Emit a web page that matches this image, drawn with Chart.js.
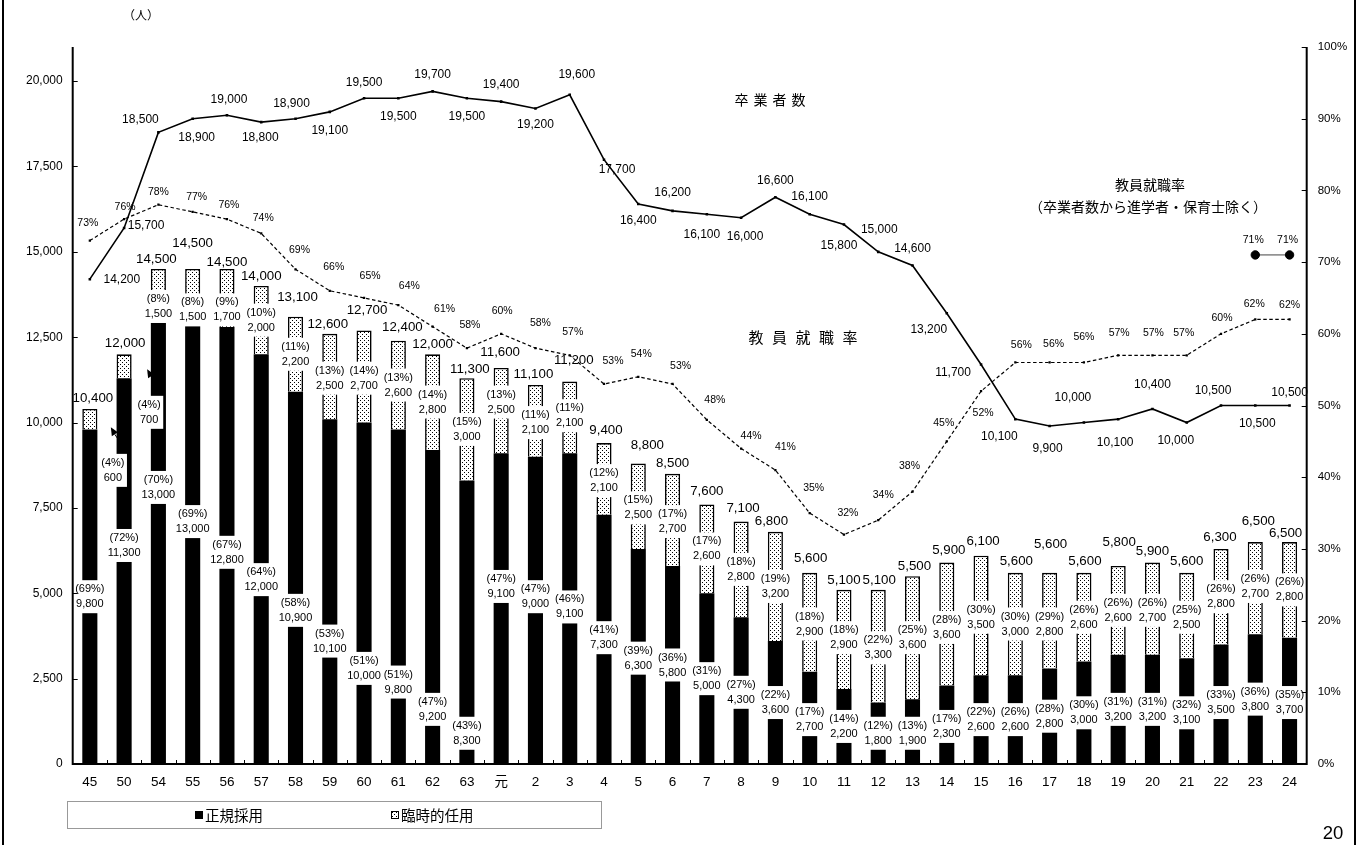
<!DOCTYPE html>
<html>
<head>
<meta charset="utf-8">
<title>教員採用者数・卒業者数・教員就職率の推移</title>
<script src="https://cdn.jsdelivr.net/npm/chart.js@4/dist/chart.umd.min.js"></script>
<style>
  html, body { margin: 0; padding: 0; background: #fff; }
  #wrap { position: relative; width: 1363px; height: 845px; }
</style>
</head>
<body>
<div id="wrap"><canvas id="c" width="1363" height="845"></canvas></div>
<script>
// ---- data -------------------------------------------------------------
const years = ['45','50','54','55','56','57','58','59','60','61','62','63','元',
  '2','3','4','5','6','7','8','9','10','11','12','13','14','15','16','17','18','19','20','21','22','23','24'];

// 正規採用 (people) and its share of graduates (%)
const regularHires = [9800,11300,13000,13000,12800,12000,10900,10100,10000,9800,9200,8300,9100,
  9000,9100,7300,6300,5800,5000,4300,3600,2700,2200,1800,1900,2300,2600,2600,2800,3000,3200,3200,3100,3500,3800,3700];
const regularShare = [69,72,70,69,67,64,58,53,51,51,47,43,47,
  47,46,41,39,36,31,27,22,17,14,12,13,17,22,26,28,30,31,31,32,33,36,35];

// 臨時的任用 (people) and its share (%)
const temporaryHires = [600,700,1500,1500,1700,2000,2200,2500,2700,2600,2800,3000,2500,
  2100,2100,2100,2500,2700,2600,2800,3200,2900,2900,3300,3600,3600,3500,3000,2800,2600,2600,2700,2500,2800,2700,2800];
const temporaryShare = [4,4,8,8,9,10,11,13,14,13,14,15,13,
  11,11,12,15,17,17,18,19,18,18,22,25,28,30,30,29,26,26,26,25,26,26,26];

// total hires written above each column
const totalHires = [10400,12000,14500,14500,14500,14000,13100,12600,12700,12400,12000,11300,11600,
  11100,11200,9400,8800,8500,7600,7100,6800,5600,5100,5100,5500,5900,6100,5600,5600,5600,5800,5900,5600,6300,6500,6500];

// 卒業者数 (people)
const graduates = [14200,15700,18500,18900,19000,18800,18900,19100,19500,19500,19700,19500,19400,
  19200,19600,17700,16400,16200,16100,16000,16600,16100,15800,15000,14600,13200,11700,10100,9900,10000,10100,10400,10000,10500,10500,10500];

// 教員就職率 (%)
const placementRate = [73,76,78,77,76,74,69,66,65,64,61,58,60,
  58,57,53,54,53,48,44,41,35,32,34,38,45,52,56,56,56,57,57,57,60,62,62];

// 教員就職率（卒業者数から進学者・保育士除く）(%), last two years only
const placementRateExcl = years.map((y, i) => i >= years.length - 2 ? 71 : null);

// axis ranges and tick values
const peopleMax = 21000;
const peopleTicks = [0,2500,5000,7500,10000,12500,15000,17500,20000];
const rateMax = 100;
const rateTicks = [0,10,20,30,40,50,60,70,80,90,100];

// ---- label placement (axis units / pixel nudges) -----------------------
const regularLabelAt = [4900,6400,8100,7100,6200,5400,4500,3600,2800,2400,1600,900,5200,
  4900,4600,3700,3100,2900,2500,2100,1800,1300,1100,900,900,1100,1300,1300,1400,1500,1600,1600,1500,1800,1900,1800];
const temporaryLabelAt = [8600,10300,13400,13300,13300,13000,12000,11300,11300,11100,10600,9800,10600,
  10000,10200,8300,7500,7100,6300,5700,5200,4100,3700,3400,3700,4000,4300,4100,4100,4300,4500,4500,4300,4900,5200,5100];
const temporaryLabelShift = {0: 23, 1: 25};
const totalLabelNudge = [[3,-11],[1,-11],[-2,-10],[0,-26],[0,-7],[0,-10],[2,-19],[-2,-9],[3,-20],[4,-13],[0,-10],[3,-9],[-1,-16],
  [-2,-11],[4,-21],[2,-13],[9,-18],[0,-10],[0,-13],[2,-13],[-4,-10],[1,-14],[0,-10],[1,-10],[2,-10],[2,-12],[2,-14],[1,-11],[1,-28],[1,-11],[1,-24],[0,-11],[0,-11],[-1,-12],[3,-21],[-4,-9]];
const graduateLabelNudge = [[32,1],[22,-2],[-18,-13],[4,19],[2,-16],[-1,16],[-4,-15],[0,19],[0,-16],[0,18],[0,-17],[0,18],[0,-17],
  [0,16],[7,-20],[13,10],[0,17],[0,-18],[-5,20],[4,19],[0,-17],[0,-18],[-5,21],[1,-22],[0,-17],[-18,16],[-28,8],[-16,18],[-2,23],[-11,-25],[-3,24],[0,-24],[-11,18],[-8,-15],[2,18],[0,-13]];
const rateLabelNudge = [[-2,-17],[1,-12],[0,-13],[4,-15],[2,-14],[2,-15],[4,-19],[4,-24],[6,-22],[11,-19],[12,-18],[3,-23],[1,-23],
  [5,-25],[3,-23],[9,-23],[3,-23],[8,-18],[8,-20],[10,-12],[10,-23],[4,-25],[4,-21],[5,-25],[-3,-25],[-3,-18],[2,22],[6,-17],[4,-18],[0,-25],[1,-22],[1,-22],[-3,-22],[1,-16],[-1,-15],[0,-14]];

// ---- drawing helpers -------------------------------------------------------
const LATIN = '"Liberation Sans", "Noto Sans CJK JP", sans-serif';
const CJK = '"Noto Sans CJK JP", "Liberation Sans", sans-serif';
const fmt = v => v.toLocaleString('en-US');

// fine dot screen used for 臨時的任用
function dotPattern() {
  const p = document.createElement('canvas');
  p.width = 4; p.height = 4;
  const g = p.getContext('2d');
  g.fillStyle = '#fff'; g.fillRect(0, 0, 4, 4);
  g.fillStyle = '#000';
  g.fillRect(0, 0, 1, 1);
  g.fillRect(2, 2, 1, 1);
  return document.getElementById('c').getContext('2d').createPattern(p, 'repeat');
}
const dots = dotPattern();

function boxedLabel(ctx, x, y, lines, size) {
  ctx.font = `${size}px ${LATIN}`;
  const lh = 15;
  const w = Math.max(...lines.map(t => ctx.measureText(t).width)) + 5;
  const h = lh * lines.length + 3;
  ctx.fillStyle = '#fff';
  ctx.fillRect(x - w / 2, y - h / 2, w, h);
  ctx.fillStyle = '#000';
  ctx.textAlign = 'center';
  ctx.textBaseline = 'middle';
  lines.forEach((t, k) => ctx.fillText(t, x, y - (lines.length - 1) * lh / 2 + k * lh));
}

function spacedText(ctx, text, cx, cy, size, pitch) {
  ctx.font = `${size}px ${CJK}`;
  ctx.textAlign = 'center';
  ctx.textBaseline = 'middle';
  ctx.fillStyle = '#000';
  const chars = [...text];
  const start = cx - (chars.length - 1) * pitch / 2;
  chars.forEach((ch, k) => ctx.fillText(ch, start + k * pitch, cy));
}

// labels inside / above the stacked columns, drawn before the lines
const columnLabels = {
  id: 'columnLabels',
  beforeDatasetsDraw(chart) { chart.$barsDrawn = 0; },
  afterDatasetDraw(chart, args) {
    if (args.meta.type !== 'bar') return;
    chart.$barsDrawn += 1;
    if (chart.$barsDrawn < 2) return;
    const ctx = chart.ctx;
    const ys = chart.scales.y;
    const bars = chart.getDatasetMeta(0).data;
    ctx.save();
    years.forEach((_, i) => {
      const bx = bars[i].x;
      boxedLabel(ctx, bx, ys.getPixelForValue(regularLabelAt[i]),
        [`(${regularShare[i]}%)`, fmt(regularHires[i])], 11);
      const tx = bx + (temporaryLabelShift[i] || 0);
      boxedLabel(ctx, tx, ys.getPixelForValue(temporaryLabelAt[i]),
        [`(${temporaryShare[i]}%)`, fmt(temporaryHires[i])], 11);
      ctx.font = `13.3px ${LATIN}`;
      ctx.textAlign = 'center';
      ctx.textBaseline = 'middle';
      ctx.fillStyle = '#000';
      const [dx, dy] = totalLabelNudge[i];
      ctx.fillText(fmt(totalHires[i]), bx + dx, ys.getPixelForValue(totalHires[i]) + dy);
    });
    // leader marks for the two shifted 臨時的任用 labels
    ctx.fillStyle = '#000';
    ctx.strokeStyle = '#000';
    ctx.lineWidth = 1;
    Object.keys(temporaryLabelShift).forEach(k => {
      const i = +k;
      const lx = bars[i].x + temporaryLabelShift[i];
      const ly = ys.getPixelForValue(temporaryLabelAt[i]) - 18;
      ctx.beginPath();
      ctx.moveTo(lx + 14, ly);
      ctx.lineTo(lx + 2, ly - 18);
      ctx.stroke();
      ctx.beginPath();
      ctx.moveTo(lx - 2, ly - 25);
      ctx.lineTo(lx + 5, ly - 20);
      ctx.lineTo(lx - 1, ly - 16);
      ctx.closePath();
      ctx.fill();
    });
    ctx.restore();
  }
};

// axes, tick marks, line labels, captions, legend and frame
const decorations = {
  id: 'decorations',
  afterDatasetsDraw(chart) {
    const ctx = chart.ctx;
    const {left, right, top, bottom} = chart.chartArea;
    const ys = chart.scales.y, ys2 = chart.scales.y2, xs = chart.scales.x;
    ctx.save();

    // axis lines
    ctx.strokeStyle = '#000';
    ctx.lineWidth = 2;
    ctx.beginPath();
    ctx.moveTo(left, top); ctx.lineTo(left, bottom + 1);
    ctx.moveTo(right, top); ctx.lineTo(right, bottom + 1);
    ctx.moveTo(left - 1, bottom); ctx.lineTo(right + 1, bottom);
    ctx.stroke();

    // inward tick marks
    ctx.lineWidth = 1;
    ctx.beginPath();
    ys.ticks.forEach(t => {
      const y = Math.round(ys.getPixelForValue(t.value)) + 0.5;
      ctx.moveTo(left, y); ctx.lineTo(left + 5, y);
    });
    ys2.ticks.forEach(t => {
      const y = Math.round(ys2.getPixelForValue(t.value)) + 0.5;
      ctx.moveTo(right - 5, y); ctx.lineTo(right, y);
    });
    const step = xs.width / years.length;
    for (let k = 1; k < years.length; k++) {
      const x = Math.round(left + k * step) + 0.5;
      ctx.moveTo(x, bottom); ctx.lineTo(x, bottom - 4);
    }
    ctx.stroke();

    // value labels on the two lines
    ctx.fillStyle = '#000';
    ctx.textAlign = 'center';
    ctx.textBaseline = 'middle';
    const gPts = chart.getDatasetMeta(2).data;
    ctx.font = `12px ${LATIN}`;
    gPts.forEach((p, i) => {
      const [dx, dy] = graduateLabelNudge[i];
      ctx.fillText(fmt(graduates[i]), p.x + dx, p.y + dy);
    });
    const rPts = chart.getDatasetMeta(3).data;
    ctx.font = `10.5px ${LATIN}`;
    rPts.forEach((p, i) => {
      const [dx, dy] = rateLabelNudge[i];
      ctx.fillText(placementRate[i] + '%', p.x + dx, p.y + dy);
    });
    const ePts = chart.getDatasetMeta(4).data;
    ePts.forEach((p, i) => {
      if (placementRateExcl[i] == null) return;
      ctx.fillText(placementRateExcl[i] + '%', p.x - 2, p.y - 15);
    });

    // captions
    ctx.font = `12px ${CJK}`;
    ctx.fillText('（人）', 141, 15);
    spacedText(ctx, '卒業者数', 770, 100, 14, 19);
    spacedText(ctx, '教員就職率', 803, 337, 15, 23.5);
    ctx.font = `14px ${CJK}`;
    ctx.fillText('教員就職率', 1150, 185);
    ctx.fillText('（卒業者数から進学者・保育士除く）', 1148, 207);

    // legend
    ctx.strokeStyle = '#999';
    ctx.lineWidth = 1;
    ctx.strokeRect(67.5, 801.5, 534, 27);
    ctx.fillStyle = '#000';
    ctx.fillRect(195, 811, 8, 8);
    ctx.fillStyle = dots;
    ctx.fillRect(391, 811, 8, 8);
    ctx.strokeStyle = '#000';
    ctx.strokeRect(391.5, 811.5, 7, 7);
    ctx.fillStyle = '#000';
    ctx.font = `14.5px ${CJK}`;
    ctx.textAlign = 'left';
    ctx.fillText('正規採用', 205, 815.5);
    ctx.fillText('臨時的任用', 401, 815.5);

    // page number and frame
    ctx.font = `18.5px ${LATIN}`;
    ctx.textAlign = 'center';
    ctx.fillText('20', 1333, 834);
    ctx.lineWidth = 2;
    ctx.beginPath();
    ctx.moveTo(3, 0); ctx.lineTo(3, 845);
    ctx.moveTo(1355, 0); ctx.lineTo(1355, 845);
    ctx.stroke();
    ctx.restore();
  }
};

// ---- chart -------------------------------------------------------------------
new Chart(document.getElementById('c'), {
  data: {
    labels: years,
    datasets: [
      {
        type: 'bar', label: '正規採用', data: regularHires,
        yAxisID: 'y', stack: 'hires', order: 2,
        backgroundColor: '#000', borderWidth: 0,
        barPercentage: 0.44, categoryPercentage: 1
      },
      {
        type: 'bar', label: '臨時的任用', data: temporaryHires,
        yAxisID: 'y', stack: 'hires', order: 3,
        backgroundColor: dots, borderColor: '#000', borderWidth: 1.6,
        barPercentage: 0.44, categoryPercentage: 1
      },
      {
        type: 'line', label: '卒業者数', data: graduates,
        yAxisID: 'y', stack: 'graduates', order: 1,
        borderColor: '#000', borderWidth: 1.6, tension: 0,
        pointStyle: 'rect', pointRadius: 1.8, pointBackgroundColor: '#000', pointBorderWidth: 0
      },
      {
        type: 'line', label: '教員就職率', data: placementRate,
        yAxisID: 'y2', order: 1,
        borderColor: '#000', borderWidth: 1.2, borderDash: [3.5, 2.5], tension: 0,
        pointStyle: 'rect', pointRadius: 1.6, pointBackgroundColor: '#000', pointBorderWidth: 0
      },
      {
        type: 'line', label: '教員就職率（卒業者数から進学者・保育士除く）', data: placementRateExcl,
        yAxisID: 'y2', order: 0,
        borderColor: '#444', borderWidth: 1, tension: 0, spanGaps: false,
        pointStyle: 'circle', pointRadius: 4.2, pointBackgroundColor: '#000', pointBorderColor: '#000'
      }
    ]
  },
  options: {
    responsive: false,
    animation: false,
    devicePixelRatio: 1,
    events: [],
    layout: { padding: { top: 47, left: 0, right: 0, bottom: 0 } },
    plugins: { legend: { display: false }, tooltip: { enabled: false }, title: { display: false } },
    scales: {
      x: {
        type: 'category', stacked: true, offset: true,
        grid: { display: false, drawTicks: false }, border: { display: false },
        ticks: { color: '#000', padding: 10, maxRotation: 0, autoSkip: false,
          font: { family: LATIN, size: 13.5 } },
        afterFit(scale) { scale.height = 81; }
      },
      y: {
        type: 'linear', position: 'left', stacked: true,
        min: 0, max: peopleMax,
        grid: { display: false, drawTicks: false }, border: { display: false },
        ticks: { color: '#000', padding: 10, autoSkip: false,
          font: { family: LATIN, size: 12 },
          callback: v => fmt(v) },
        afterBuildTicks(scale) { scale.ticks = peopleTicks.map(v => ({ value: v })); },
        afterFit(scale) { scale.width = 72.7; }
      },
      y2: {
        type: 'linear', position: 'right',
        min: 0, max: rateMax,
        grid: { display: false, drawTicks: false }, border: { display: false },
        ticks: { color: '#000', padding: 11, autoSkip: false,
          font: { family: LATIN, size: 11.5 },
          callback: v => v + '%' },
        afterBuildTicks(scale) { scale.ticks = rateTicks.map(v => ({ value: v })); },
        afterFit(scale) { scale.width = 56.3; }
      }
    }
  },
  plugins: [columnLabels, decorations]
});
</script>
</body>
</html>
